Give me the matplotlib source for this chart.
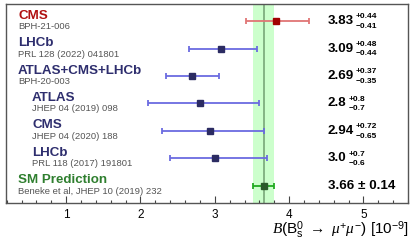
import matplotlib
matplotlib.use("Agg")
import matplotlib.pyplot as plt
from matplotlib.ticker import MultipleLocator
import matplotlib.transforms as mtransforms

plt.rcParams['font.family'] = ['Liberation Sans', 'DejaVu Sans']
plt.rcParams['mathtext.fontset'] = 'custom'
plt.rcParams['mathtext.rm'] = 'Liberation Sans'
plt.rcParams['mathtext.it'] = 'Liberation Serif:italic'
plt.rcParams['mathtext.bf'] = 'Liberation Sans:bold'

# measurements, top to bottom
names = ["CMS", "LHCb", "ATLAS+CMS+LHCb", "ATLAS", "CMS", "LHCb"]
refs = ["BPH-21-006", "PRL 128 (2022) 041801", "BPH-20-003",
        "JHEP 04 (2019) 098", "JHEP 04 (2020) 188", "PRL 118 (2017) 191801"]
values = [3.83, 3.09, 2.69, 2.8, 2.94, 3.0]
err_up = [0.44, 0.48, 0.37, 0.8, 0.72, 0.7]
err_dn = [0.41, 0.44, 0.35, 0.7, 0.65, 0.6]
val_txt = ["3.83", "3.09", "2.69", "2.8", "2.94", "3.0"]
up_txt = ["+0.44", "+0.48", "+0.37", "+0.8", "+0.72", "+0.7"]
dn_txt = ["\u22120.41", "\u22120.44", "\u22120.35", "\u22120.7", "\u22120.65", "\u22120.6"]
indent = [False, False, False, True, True, True]

sm_name = "SM Prediction"
sm_ref = "Beneke et al, JHEP 10 (2019) 232"
sm_value = 3.66
sm_err = 0.14

fig = plt.figure(figsize=(4.15, 2.47), dpi=100)
ax = fig.add_axes([6 / 415, 44 / 247, 402 / 415, 199 / 247])

n = len(names)
ypos = [n - i for i in range(n)]  # 6..1, SM at 0

# SM band
ax.axvspan(sm_value - sm_err, sm_value + sm_err, color='#ccffcc', zorder=0, lw=0)
ax.axvline(sm_value, color='#7fae7f', lw=1.3, zorder=1)

trans = mtransforms.blended_transform_factory(ax.transAxes, ax.transData)
for i in range(n):
    if i == 0:
        lc, mc, tc = '#e07575', '#a00000', '#b01010'
    else:
        lc, mc, tc = '#6b6be0', '#2b2b62', '#2e2e6e'
    y = ypos[i]
    ax.errorbar(values[i], y, xerr=[[err_dn[i]], [err_up[i]]], fmt='s', color=lc,
                mfc=mc, mec=mc, ms=4.5, elinewidth=1.3, capsize=2.2, capthick=1.3, zorder=3)
    tx = 0.065 if indent[i] else 0.03
    ax.text(tx, y + 0.2, names[i], transform=trans, color=tc, fontsize=9.6,
            fontweight='bold', ha='left', va='center')
    ax.text(tx, y - 0.2, refs[i], transform=trans, color='#555555', fontsize=6.8,
            ha='left', va='center')
    t = ax.text(4.52, y, val_txt[i], fontsize=9.6, fontweight='bold', ha='left', va='center')
    ax.annotate(up_txt[i], xy=(1, 0.85), xycoords=t, xytext=(1.5, 0),
                textcoords='offset points', fontsize=6, fontweight='semibold',
                ha='left', va='center')
    ax.annotate(dn_txt[i], xy=(1, 0.05), xycoords=t, xytext=(1.5, 0),
                textcoords='offset points', fontsize=6, fontweight='semibold',
                ha='left', va='center')

# SM prediction
ax.errorbar(sm_value, 0, xerr=sm_err, fmt='s', color='#22aa22', mfc='#2a5a2a',
            mec='#2a5a2a', ms=4.5, elinewidth=1.3, capsize=2.2, capthick=1.3, zorder=3)
ax.text(0.03, 0.2, sm_name, transform=trans, color='#2f7f2f', fontsize=9.6,
        fontweight='bold', ha='left', va='center')
ax.text(0.03, -0.2, sm_ref, transform=trans, color='#555555', fontsize=6.8,
        ha='left', va='center')
ax.text(4.52, 0, "3.66 \u00b1 0.14", fontsize=9.6, fontweight='bold', ha='left', va='center')

ax.set_xlim(0.19, 5.6)
ax.set_ylim(-0.62, n + 0.62)
ax.set_yticks([])
ax.xaxis.set_major_locator(MultipleLocator(1))
ax.xaxis.set_minor_locator(MultipleLocator(0.2))
ax.tick_params(axis='x', which='major', direction='in', length=5, width=0.8,
               labelsize=8.5, pad=4, color='#444444')
ax.tick_params(axis='x', which='minor', direction='in', length=2.5, width=0.8,
               color='#444444')
for s in ax.spines.values():
    s.set_color('#555555')
    s.set_linewidth(1.0)

fig.text(409 / 415, 17 / 247,
         r"$\mathit{B}$(B$^0_\mathrm{s}$ $\rightarrow$ $\mu^{+}\mu^{-}$) [10$^{-9}$]",
         fontsize=11, ha='right', va='center')

fig.savefig("out.png", dpi=100)
